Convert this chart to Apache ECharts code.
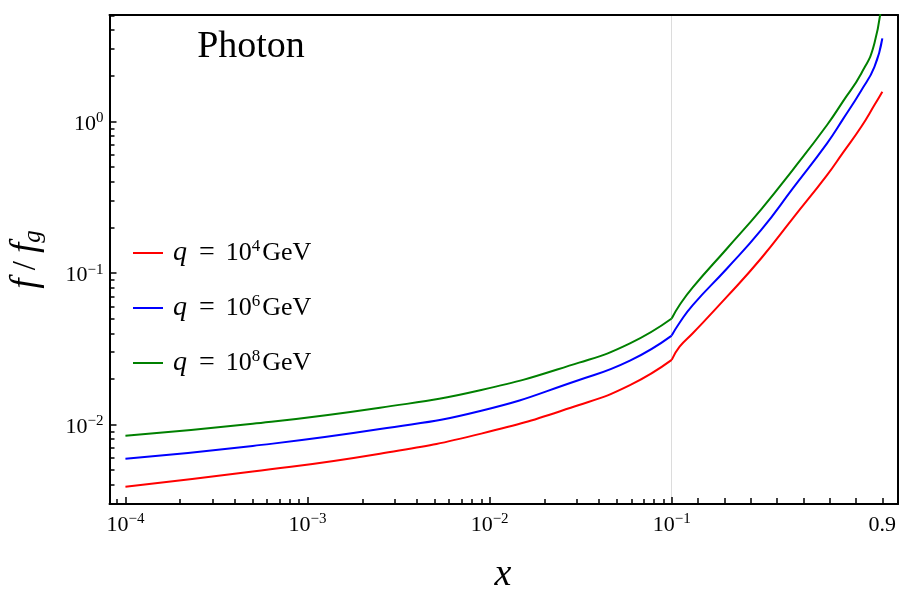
<!DOCTYPE html>
<html>
<head>
<meta charset="utf-8">
<script src="https://cdn.jsdelivr.net/npm/echarts@6/dist/echarts.min.js"></script>
<style>
    html, body { margin: 0; background: #fff; }
    #main { width: 900px; height: 600px; }
</style>
</head>
<body>
<div id="main"></div>
<script>
// x axis is split at 0.1: log scale below, linear scale above
const xLow = [1e-4, 5e-4, 2.5e-3, 9e-3, 0.031, 0.059, 0.1]
const xHigh = [0.1, 0.13, 0.18, 0.31, 0.44, 0.56, 0.69, 0.75, 0.82, 0.87, 0.9]

const q4Low = [0.00389, 0.00489, 0.00642, 0.00871, 0.01345, 0.0182, 0.0267]
const q6Low = [0.00595, 0.00722, 0.00933, 0.01233, 0.01967, 0.0264, 0.0386]
const q8Low = [0.00844, 0.0101, 0.0129, 0.0169, 0.0256, 0.0343, 0.05]

const q4High = [0.0267, 0.0326, 0.04, 0.0697, 0.125, 0.229, 0.442, 0.62, 0.921, 1.28, 1.57]
const q6High = [0.0386, 0.0469, 0.0614, 0.107, 0.192, 0.361, 0.716, 1.03, 1.6, 2.29, 3.53]
const q8High = [0.05, 0.0614, 0.0803, 0.145, 0.263, 0.479, 0.946, 1.35, 2.07, 3.27, 7.0]

const seriesNames = ['q4', 'q6', 'q8']
const qExponents = [4, 6, 8]
const seriesColors = ['#ff0000', '#0000ff', '#008000']

const xLogTicks = [1e-4, 1e-3, 1e-2, 1e-1]
const xLinTicks = [0.2, 0.3, 0.4, 0.5, 0.6, 0.7, 0.8, 0.9]
const xLinLabels = [0.9]
const yLogTicks = [0.01, 0.1, 1]

const xLogRange = [8.175e-5, 0.1]
const xLinRange = [0.1, 0.9595]
const yRange = [0.00299, 5.03]

const FONT = 'Liberation Serif'

// minor ticks at 2..9 of every decade
const minorOf = (decades) => {
    const out = []
    decades.forEach((d) => {
        for (let m = 2; m <= 9; m++) out.push(+(m * d).toPrecision(3))
    })
    return out
}
const xLogMinor = minorOf([1e-5, 1e-4, 1e-3, 1e-2])
const yLogMinor = minorOf([1e-3, 1e-2, 1e-1, 1])

const zip = (xs, ys) => xs.map((x, i) => [x, ys[i]])

const powLabel = (v) => {
    const e = Math.round(Math.log10(v))
    return '{b|10}{s|' + (e < 0 ? '\u2212' + -e : e) + '}'
}
const labelRich = {
    b: { fontFamily: FONT, fontSize: 22, lineHeight: 26, color: '#000' },
    s: { fontFamily: FONT, fontSize: 15, lineHeight: 11, verticalAlign: 'top', color: '#000' },
}
const black = { color: '#000', width: 2 }
const tickLine = { color: '#000', width: 1.5 }

const chart = echarts.init(document.getElementById('main'))

const series = []
const lows = [q4Low, q6Low, q8Low]
const highs = [q4High, q6High, q8High]
seriesNames.forEach((name, i) => {
    const common = {
        name: name,
        type: 'line',
        showSymbol: false,
        smooth: 0.5,
        color: seriesColors[i],
        lineStyle: { color: seriesColors[i], width: 2 },
        emphasis: { disabled: true },
    }
    series.push(Object.assign({}, common, { xAxisIndex: 0, yAxisIndex: 0, data: zip(xLow, lows[i]) }))
    series.push(Object.assign({}, common, { xAxisIndex: 3, yAxisIndex: 2, data: zip(xHigh, highs[i]) }))
})

const option = {
    animation: false,
    backgroundColor: '#fff',
    grid: [
        { left: 108, right: 228.3, top: 15, bottom: 96 },
        { left: 671.7, right: 2, top: 15, bottom: 96 },
    ],
    xAxis: [
        {
            type: 'log', gridIndex: 0, position: 'bottom',
            min: xLogRange[0], max: xLogRange[1],
            axisLine: { show: true, onZero: false, lineStyle: black },
            axisTick: { show: true, inside: true, length: 7, lineStyle: tickLine, customValues: xLogTicks },
            axisLabel: { customValues: xLogTicks, formatter: powLabel, rich: labelRich, margin: 8 },
            splitLine: { show: false },
        },
        {
            type: 'log', gridIndex: 0, position: 'bottom',
            min: xLogRange[0], max: xLogRange[1],
            axisLine: { show: false },
            axisTick: { show: true, inside: true, length: 5, lineStyle: tickLine, customValues: xLogMinor },
            axisLabel: { show: false },
            splitLine: { show: false },
        },
        {
            type: 'log', gridIndex: 0, position: 'top',
            min: xLogRange[0], max: xLogRange[1],
            axisLine: { show: true, onZero: false, lineStyle: black },
            axisTick: { show: false }, axisLabel: { show: false }, splitLine: { show: false },
        },
        {
            type: 'value', gridIndex: 1, position: 'bottom',
            min: xLinRange[0], max: xLinRange[1],
            axisLine: { show: true, onZero: false, lineStyle: black },
            axisTick: { show: true, inside: true, length: 6, lineStyle: tickLine, customValues: xLinTicks },
            axisLabel: {
                customValues: xLinLabels, margin: 8, rich: labelRich,
                formatter: (v) => '{b|' + v + '}',
            },
            splitLine: { show: false },
        },
        {
            type: 'value', gridIndex: 1, position: 'top',
            min: xLinRange[0], max: xLinRange[1],
            axisLine: { show: true, onZero: false, lineStyle: black },
            axisTick: { show: false }, axisLabel: { show: false }, splitLine: { show: false },
        },
    ],
    yAxis: [
        {
            type: 'log', gridIndex: 0, position: 'left',
            min: yRange[0], max: yRange[1],
            axisLine: { show: true, onZero: false, lineStyle: black },
            axisTick: { show: true, inside: true, length: 7, lineStyle: tickLine, customValues: yLogTicks },
            axisLabel: { customValues: yLogTicks, formatter: powLabel, rich: labelRich, margin: 6, padding: [5, 0, 0, 0] },
            splitLine: { show: false },
            name: '{i|f}{t| / }{i|f}{g|g}',
            nameLocation: 'middle',
            nameGap: 64,
            nameTextStyle: {
                rich: {
                    i: { fontFamily: FONT, fontStyle: 'italic', fontSize: 37, lineHeight: 38, color: '#000' },
                    t: { fontFamily: FONT, fontSize: 33, lineHeight: 38, color: '#000' },
                    g: { fontFamily: FONT, fontStyle: 'italic', fontSize: 25, lineHeight: 30, verticalAlign: 'bottom', color: '#000' },
                },
                fontFamily: FONT, fontSize: 32, color: '#000',
            },
        },
        {
            type: 'log', gridIndex: 0, position: 'left',
            min: yRange[0], max: yRange[1],
            axisLine: { show: false },
            axisTick: { show: true, inside: true, length: 5, lineStyle: tickLine, customValues: yLogMinor },
            axisLabel: { show: false },
            splitLine: { show: false },
        },
        {
            type: 'log', gridIndex: 1, position: 'right',
            min: yRange[0], max: yRange[1],
            axisLine: { show: true, onZero: false, lineStyle: black },
            axisTick: { show: false }, axisLabel: { show: false }, splitLine: { show: false },
        },
        {
            type: 'log', gridIndex: 1, position: 'left',
            min: yRange[0], max: yRange[1],
            axisLine: { show: true, onZero: false, lineStyle: { color: '#dcdcdc', width: 1 } },
            axisTick: { show: false }, axisLabel: { show: false }, splitLine: { show: false },
        },
    ],
    legend: {
        orient: 'vertical',
        left: 133,
        top: 238,
        padding: 0,
        icon: 'rect',
        itemWidth: 30,
        itemHeight: 2,
        itemGap: 26,
        data: seriesNames,
        selectedMode: false,
        formatter: (name) => {
            const e = qExponents[seriesNames.indexOf(name)]
            return '{i|q}{e|=}{t|10}{s|' + e + '}{t|GeV}'
        },
        textStyle: {
            fontFamily: FONT, fontSize: 26, color: '#000', padding: [0, 0, 0, 5],
            rich: {
                i: { fontFamily: FONT, fontStyle: 'italic', fontSize: 28, lineHeight: 30, color: '#000' },
                e: { fontFamily: FONT, fontSize: 28, lineHeight: 30, padding: [0, 11, 0, 12], color: '#000' },
                t: { fontFamily: FONT, fontSize: 26, lineHeight: 30, color: '#000' },
                s: { fontFamily: FONT, fontSize: 17, lineHeight: 12, verticalAlign: 'top', padding: [0, 2, 0, 0], color: '#000' },
            },
        },
    },
    graphic: [
        {
            type: 'text', x: 251, y: 47,
            style: { text: 'Photon', font: '38px "Liberation Serif"', fill: '#000', textAlign: 'center', textVerticalAlign: 'middle' },
        },
        {
            type: 'text', x: 503, y: 575,
            style: { text: 'x', font: 'italic 38px "Liberation Serif"', fill: '#000', textAlign: 'center', textVerticalAlign: 'middle' },
        },
    ],
    series: series,
}

option && chart.setOption(option)
</script>
</body>
</html>
